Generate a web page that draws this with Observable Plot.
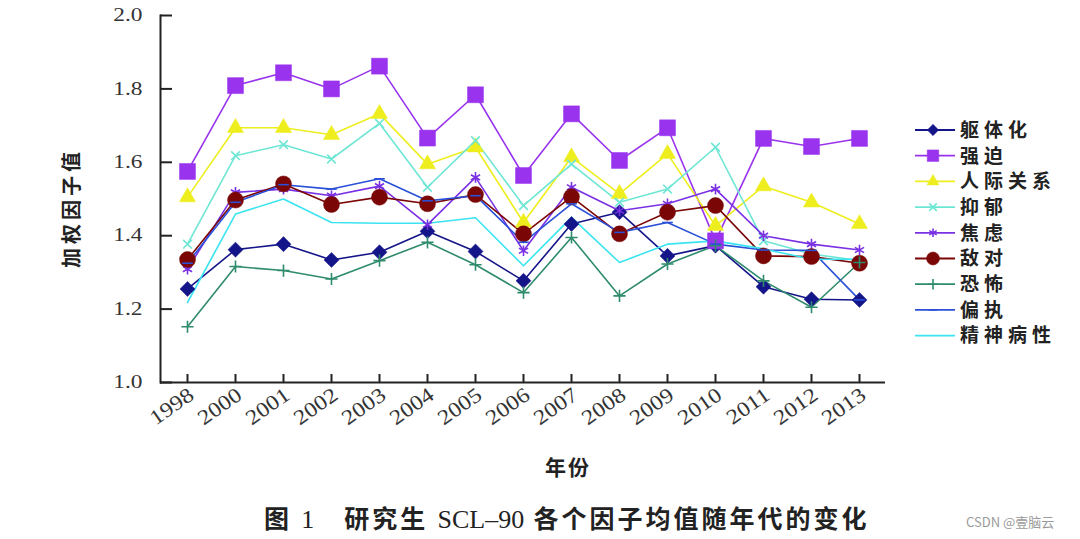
<!DOCTYPE html>
<html><head><meta charset="utf-8">
<script src="https://cdn.jsdelivr.net/npm/d3@7"></script>
<script src="https://cdn.jsdelivr.net/npm/@observablehq/plot@0.6"></script>
<style>
body{margin:0;background:#fff;}
#wrap{position:relative;width:1080px;height:539px;overflow:hidden;background:#fff;}
#legend{position:absolute;left:905px;top:115px;}
.lbl{position:absolute;font-family:"Liberation Serif","Noto Sans CJK SC";font-weight:bold;color:#222;white-space:nowrap;}
#xlabel{left:545px;top:451px;font-size:21px;letter-spacing:2px;}
#ylabel{left:70px;top:208px;font-size:20px;letter-spacing:4px;transform:translate(-50%,-50%) rotate(-90deg);}
#caption{left:264px;top:499px;font-size:25px;letter-spacing:3px;}
#caption .lat{letter-spacing:0;font-weight:normal;font-size:26px;}
#wm{position:absolute;left:966px;top:512px;font-family:"Noto Sans CJK SC",sans-serif;font-size:13px;color:#9a9a9a;}
</style></head>
<body><div id="wrap"><div id="chart"></div><svg id="legend" width="175" height="240"></svg>
<div class="lbl" id="xlabel">年份</div>
<div class="lbl" id="ylabel">加权因子值</div>
<div class="lbl" id="caption">图 <span class="lat">1</span><span style="display:inline-block;width:30px"></span>研究生 <span class="lat">SCL–90</span> 各个因子均值随年代的变化</div>
<div id="wm">CSDN @壹脑云</div>
</div>
<script>
const years = ["1998","2000","2001","2002","2003","2004","2005","2006","2007","2008","2009","2010","2011","2012","2013"];
const yTicks = [1.0,1.2,1.4,1.6,1.8,2.0];
const seriesNames = ["躯体化","强迫","人际关系","抑郁","焦虑","敌对","恐怖","偏执","精神病性"];
const somatization  = [1.255,1.362,1.377,1.334,1.355,1.412,1.357,1.277,1.432,1.464,1.345,1.373,1.261,1.227,1.225];
const obsessive     = [1.575,1.809,1.844,1.800,1.862,1.666,1.784,1.564,1.732,1.605,1.694,1.386,1.665,1.643,1.665];
const interpersonal = [1.505,1.694,1.694,1.675,1.732,1.595,1.641,1.436,1.614,1.514,1.623,1.427,1.535,1.491,1.432];
const depression    = [1.377,1.618,1.648,1.609,1.706,1.532,1.659,1.482,1.595,1.491,1.527,1.641,1.386,1.350,1.332];
const anxiety       = [1.309,1.518,1.527,1.509,1.535,1.430,1.559,1.359,1.532,1.468,1.487,1.527,1.400,1.377,1.361];
const hostility     = [1.335,1.497,1.541,1.485,1.505,1.487,1.512,1.405,1.506,1.405,1.464,1.482,1.345,1.343,1.325];
const phobic        = [1.152,1.316,1.305,1.282,1.332,1.382,1.321,1.245,1.395,1.236,1.323,1.373,1.277,1.205,1.327];
const paranoid      = [1.325,1.491,1.539,1.527,1.555,1.495,1.509,1.382,1.487,1.409,1.436,1.377,1.361,1.360,1.225];
const psychoticism  = [1.218,1.459,1.500,1.436,1.434,1.434,1.449,1.318,1.450,1.327,1.377,1.386,1.364,1.336,1.336];
const seriesValues = [somatization,obsessive,interpersonal,depression,anxiety,hostility,phobic,paranoid,psychoticism];
const colors = ["#15158a","#9933ee","#eeee1e","#6ee6d4","#7a30e4","#7a0606","#2e8b6c","#2a50d8","#3ae4f0"];

// custom symbols
const diamondSym = {draw(ctx, size){ const h = Math.sqrt(size/2); ctx.moveTo(0,-h); ctx.lineTo(h,0); ctx.lineTo(0,h); ctx.lineTo(-h,0); ctx.closePath(); }};
const dashSym = {draw(ctx, size){ const w = Math.sqrt(size)*0.6; ctx.moveTo(-w,0); ctx.lineTo(w,0); }};
const markers = [
  {symbol: diamondSym, r: 6, fill: true},
  {symbol: "square", r: 9, fill: true},
  {symbol: "triangle", r: 6, fill: true},
  {symbol: "times", r: 4, fill: false},
  {symbol: "asterisk", r: 5, fill: false},
  {symbol: "circle", r: 8, fill: true},
  {symbol: "plus", r: 4, fill: false},
  {symbol: dashSym, r: 5, fill: false},
  null
];

const rows = seriesNames.flatMap((name, i) => years.map((yr, j) => ({series: name, year: yr, value: seriesValues[i][j]})));

const W = 1080, H = 490, mL = 160, mR = 195, mT = 15, mB = 108;
const plotW = W - mL - mR, plotH = H - mT - mB;

const marks = [
  Plot.ruleY([1], {stroke: "#222", strokeWidth: 2}),
  Plot.frame({anchor: "left", stroke: "#222", strokeWidth: 2}),
  Plot.ruleY(yTicks, {y: d => d, stroke: "#222", strokeWidth: 2, insetRight: plotW - 12}),
  Plot.ruleX(years, {x: d => d, stroke: "#222", strokeWidth: 2, insetTop: plotH - 8}),
  Plot.axisY({ticks: yTicks, tickSize: 0, tickPadding: 18, tickFormat: d3.format(".1f"), fontSize: 18, label: null, fill: "#333"}),
  Plot.axisX({tickSize: 0, tickRotate: -35, tickPadding: 10, fontSize: 21, label: null, fill: "#333", dx: 4})
];
seriesNames.forEach((name, i) => {
  const data = rows.filter(d => d.series === name);
  marks.push(Plot.line(data, {x: "year", y: "value", stroke: colors[i], strokeWidth: 1.6}));
});
seriesNames.forEach((name, i) => {
  const m = markers[i];
  if (!m) return;
  const data = rows.filter(d => d.series === name);
  marks.push(Plot.dot(data, {x: "year", y: "value", symbol: () => m.symbol, r: m.r,
    fill: m.fill ? colors[i] : "none", stroke: colors[i], strokeWidth: m.fill ? 0.5 : 1.6}));
});

const chart = Plot.plot({
  width: W, height: H, marginLeft: mL, marginRight: mR, marginTop: mT, marginBottom: mB,
  x: {type: "point", domain: years, padding: 0.5},
  y: {domain: [1, 2]},
  symbol: {type: "identity"},
  style: {fontFamily: "'Liberation Serif', serif", background: "white", color: "#222"},
  marks
});
// the reference's tick labels are horizontally wide; stretch them
function stretch(sel, k) {
  chart.querySelectorAll(sel).forEach(t => {
    const tr = t.getAttribute("transform");
    if (tr) t.setAttribute("transform", tr + ` scale(${k},1)`);
    else {
      const x = +t.getAttribute("x") || 0, y = +t.getAttribute("y") || 0;
      t.removeAttribute("x"); t.removeAttribute("y");
      t.setAttribute("transform", `translate(${x},${y}) scale(${k},1)`);
    }
  });
}
stretch('[aria-label="x-axis tick label"] text', 1.15);
stretch('[aria-label="y-axis tick label"] text', 1.3);
document.getElementById("chart").appendChild(chart);

// legend
const lg = d3.select("#legend");
const legendSizes = [4.5, 6.5, 4.5, 3.5, 4, 6.5, 3.5, 4, 0];
seriesNames.forEach((name, i) => {
  const g = lg.append("g").attr("transform", `translate(0,${15 + i * 25.7})`);
  g.append("line").attr("x1", 10).attr("x2", 50).attr("stroke", colors[i]).attr("stroke-width", 1.8);
  const m = markers[i];
  if (m) {
    const s = Math.PI * legendSizes[i] ** 2;
    let path;
    if (typeof m.symbol === "string") {
      const map = {square: d3.symbolSquare, triangle: d3.symbolTriangle, times: d3.symbolTimes, asterisk: d3.symbolAsterisk, circle: d3.symbolCircle, plus: d3.symbolPlus};
      path = d3.symbol(map[m.symbol], s)();
    } else {
      path = d3.symbol(m.symbol, s)();
    }
    g.append("path").attr("transform", "translate(28,0)").attr("d", path)
      .attr("fill", m.fill ? colors[i] : "none").attr("stroke", colors[i]).attr("stroke-width", m.fill ? 0.5 : 1.6);
  }
  g.append("text").attr("x", 55).attr("y", 0).attr("dy", "0.36em")
    .attr("font-family", "'Noto Sans CJK SC', sans-serif").attr("font-weight", "bold")
    .attr("font-size", 19).attr("letter-spacing", 5).attr("fill", "#222").text(name);
});
</script>
</body></html>
